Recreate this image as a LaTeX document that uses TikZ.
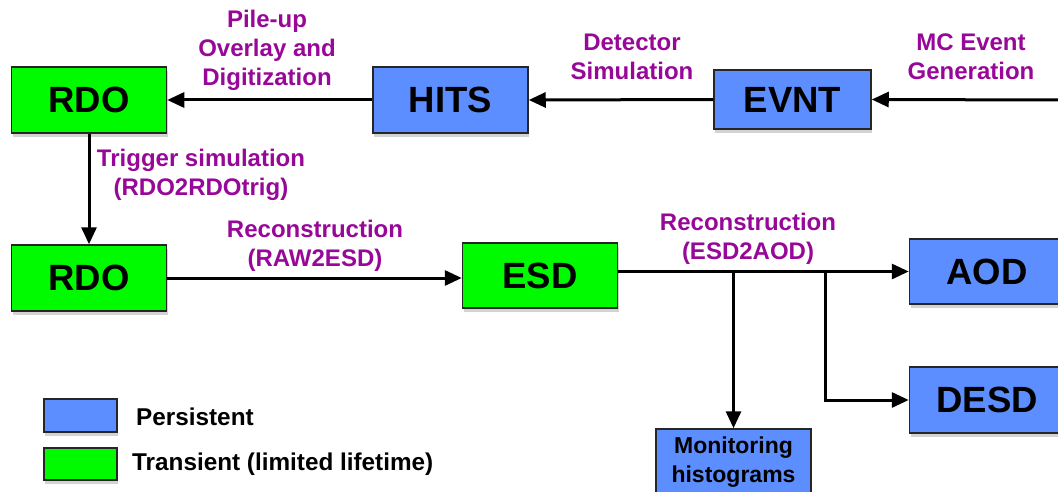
\documentclass[tikz,border=0pt]{standalone}
\usepackage{fontspec}
\setmainfont{Liberation Sans}
\usetikzlibrary{arrows.meta,shadows,calc}
\definecolor{boxgreen}{RGB}{0,250,0}
\definecolor{boxblue}{RGB}{92,142,255}
\definecolor{lblpurple}{RGB}{152,8,152}
\tikzset{
  databox/.style={draw=black!85, line width=1.5pt, inner sep=0pt,
    minimum width=155pt, minimum height=66pt,
    drop shadow={shadow xshift=1pt, shadow yshift=-4pt, opacity=0.35},
    font=\fontsize{36.5}{40}\selectfont\bfseries},
  persist/.style={databox, fill=boxblue},
  transient/.style={databox, fill=boxgreen},
  legbox/.style={draw=black!85, line width=1.5pt, inner sep=0pt,
    minimum width=73pt, minimum height=33pt,
    drop shadow={shadow xshift=1pt, shadow yshift=-4pt, opacity=0.35}},
  steplabel/.style={text=lblpurple, align=center, inner sep=0pt,
    font=\fontsize{24}{29}\selectfont\bfseries},
  legtext/.style={anchor=west, inner sep=0pt, font=\fontsize{24.3}{28}\selectfont\bfseries},
  arr/.style={line width=3pt, -{Triangle[length=17pt,width=15pt]}},
  plain/.style={line width=3pt}
}
\begin{document}
\begin{tikzpicture}[x=1pt,y=-1pt]
\useasboundingbox (0,0) rectangle (1058,492);
\clip (0,0) rectangle (1058,492);

% boxes
\node[transient] (rdo1) at (89,100) {RDO};
\node[persist] (hits) at (450.5,100) {HITS};
\node[persist, minimum width=157pt, minimum height=59pt] (evnt) at (792.5,99.5) {EVNT};
\node[transient] (rdo2) at (89,278) {RDO};
\node[transient, minimum height=65pt] (esd) at (540,275.5) {ESD};
\node[persist, minimum height=65pt] (aod) at (987,271.5) {AOD};
\node[persist] (desd) at (987,400) {DESD};
\node[persist, font=\fontsize{23}{28.5}\selectfont\bfseries, align=center] (mon) at (733.5,462) {Monitoring\\histograms};

% legend
\node[legbox, fill=boxblue] (lp) at (80.5,415.5) {};
\node[legbox, fill=boxgreen, minimum height=32pt] (lt) at (80.5,464) {};
\node[legtext] (lpt) at (136,417) {Persistent};
\node[legtext] (ltt) at (132,464) {Transient (limited lifetime)};

% connectors
\coordinate (src) at (1058,100);
\draw[arr] (src) -- (evnt.east);
\draw[arr] (evnt.west) -- (hits.east);
\draw[arr] (hits.west) -- (rdo1.east);
\draw[arr] (rdo1.south) -- (rdo2.north);
\draw[arr] (rdo2.east) -- (rdo2.east -| esd.west);
\draw[arr] (esd.east |- aod.west) -- (aod.west);
\coordinate (b1) at (mon.north |- aod.west);
\coordinate (b2) at (825,271.5);
\draw[arr] (b1) -- (mon.north);
\draw[arr, line join=miter] (b2) |- (desd.west);

% labels
\node[steplabel] (l1) at (267,50) {Pile-up\\Overlay and\\Digitization};
\node[steplabel] (l2) at (632,56.5) {Detector\\Simulation};
\node[steplabel] (l3) at (971,56.5) {MC Event\\Generation};
\node[steplabel] (l4) at (201,174.5) {Trigger simulation\\(RDO2RDOtrig)};
\node[steplabel] (l5) at (315,246) {Reconstruction\\(RAW2ESD)};
\node[steplabel] (l6) at (748,238.5) {Reconstruction\\(ESD2AOD)};
\end{tikzpicture}
\end{document}
